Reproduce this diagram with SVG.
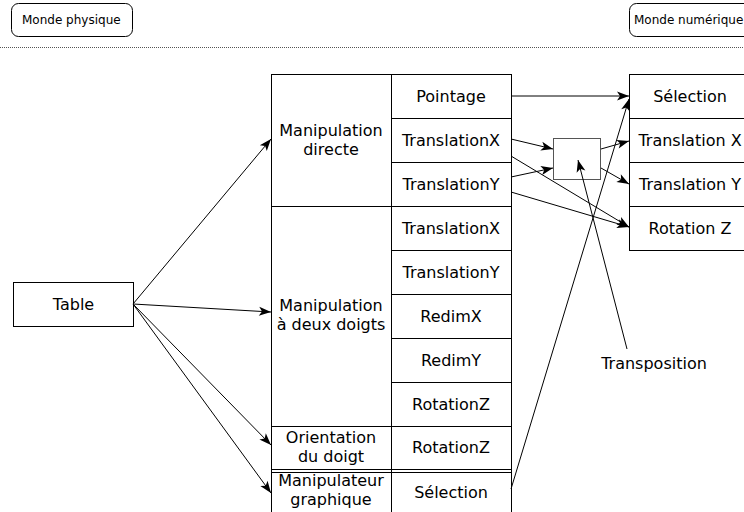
<svg xmlns="http://www.w3.org/2000/svg" width="744" height="512" viewBox="0 0 744 512">
<style>
.box{fill:#fff;stroke:#000;stroke-width:1}
.ln{stroke:#000;stroke-width:1;fill:none}
.t{font-family:"DejaVu Sans",sans-serif;font-size:16px;fill:#000;text-anchor:middle}
.s{font-family:"DejaVu Sans",sans-serif;font-size:12px;fill:#000}
.c{stroke:#000;stroke-width:1;fill:none;marker-end:url(#ah)}
</style>
<defs>
<marker id="ah" markerUnits="userSpaceOnUse" viewBox="-13 -6 14 12" refX="0" refY="0" markerWidth="14" markerHeight="12" orient="auto">
<path d="M0,0 L-12,-4.5 L-9,0 L-12,4.5 Z" fill="#000"/>
</marker>
</defs>
<rect width="744" height="512" fill="#fff"/>
<g id="monde-physique">
<rect class="box" x="11.5" y="3.5" width="121" height="33" rx="7"/>
<text class="s" x="22" y="24">Monde physique</text>
</g>
<g id="monde-numerique">
<rect class="box" x="629.5" y="3.5" width="140" height="33" rx="7"/>
<text class="s" x="634" y="24">Monde numérique</text>
</g>
<line x1="0" y1="47.5" x2="744" y2="47.5" stroke="#555" stroke-width="1" stroke-dasharray="1,1"/>
<g id="table">
<rect class="box" x="13.5" y="282.5" width="120" height="44"/>
<text class="t" x="73.5" y="310">Table</text>
</g>
<g id="gestes">
<rect class="box" x="271.5" y="74.5" width="240" height="460"/>
<line class="ln" x1="391.5" y1="74.5" x2="391.5" y2="512"/>
<line class="ln" x1="391.5" y1="118.5" x2="511.5" y2="118.5"/>
<line class="ln" x1="391.5" y1="162.5" x2="511.5" y2="162.5"/>
<line class="ln" x1="271.5" y1="206.5" x2="511.5" y2="206.5"/>
<line class="ln" x1="391.5" y1="250.5" x2="511.5" y2="250.5"/>
<line class="ln" x1="391.5" y1="294.5" x2="511.5" y2="294.5"/>
<line class="ln" x1="391.5" y1="338.5" x2="511.5" y2="338.5"/>
<line class="ln" x1="391.5" y1="382.5" x2="511.5" y2="382.5"/>
<line class="ln" x1="271.5" y1="426.5" x2="511.5" y2="426.5"/>
<line class="ln" x1="271.5" y1="469.5" x2="511.5" y2="469.5"/>
<line class="ln" x1="271.5" y1="472.5" x2="511.5" y2="472.5"/>
<text class="t" x="331" y="136">Manipulation</text>
<text class="t" x="331" y="155">directe</text>
<text class="t" x="331" y="311">Manipulation</text>
<text class="t" x="331" y="330">à deux doigts</text>
<text class="t" x="331" y="443">Orientation</text>
<text class="t" x="331" y="462">du doigt</text>
<text class="t" x="331" y="486">Manipulateur</text>
<text class="t" x="331" y="505">graphique</text>
<text class="t" x="451" y="102">Pointage</text>
<text class="t" x="451" y="146">TranslationX</text>
<text class="t" x="451" y="190">TranslationY</text>
<text class="t" x="451" y="234">TranslationX</text>
<text class="t" x="451" y="278">TranslationY</text>
<text class="t" x="451" y="322">RedimX</text>
<text class="t" x="451" y="366">RedimY</text>
<text class="t" x="451" y="410">RotationZ</text>
<text class="t" x="451" y="453">RotationZ</text>
<text class="t" x="451" y="498">Sélection</text>
</g>
<g id="actions">
<rect class="box" x="629.5" y="74.5" width="200" height="176"/>
<line class="ln" x1="629.5" y1="118.5" x2="744" y2="118.5"/>
<line class="ln" x1="629.5" y1="162.5" x2="744" y2="162.5"/>
<line class="ln" x1="629.5" y1="206.5" x2="744" y2="206.5"/>
<text class="t" x="690" y="102">Sélection</text>
<text class="t" x="690" y="146">Translation X</text>
<text class="t" x="690" y="190">Translation Y</text>
<text class="t" x="690" y="234">Rotation Z</text>
</g>
<g id="transposition-box">
<rect x="553.5" y="138.5" width="47" height="41" fill="#fff" stroke="#555" stroke-width="1"/>
</g>
<g id="transposition-label">
<text class="t" x="654" y="369">Transposition</text>
</g>
<g id="connectors">
<path class="c" d="M133,304 L271,139"/>
<path class="c" d="M133,304 L271,312"/>
<path class="c" d="M133,304 L271,445"/>
<path class="c" d="M133,304 L271,493"/>
<path class="c" d="M511,96 L629,96"/>
<path class="c" d="M511,139 L553,149"/>
<path class="c" d="M511,177 L553,168"/>
<path class="c" d="M511,156 L629,227"/>
<path class="c" d="M511,192 L629,227"/>
<path class="c" d="M601,149 L629,141"/>
<path class="c" d="M601,168 L629,184"/>
<path class="c" d="M511,489 L629,99"/>
<path class="c" d="M627,349 L578,160"/>
</g>
</svg>
